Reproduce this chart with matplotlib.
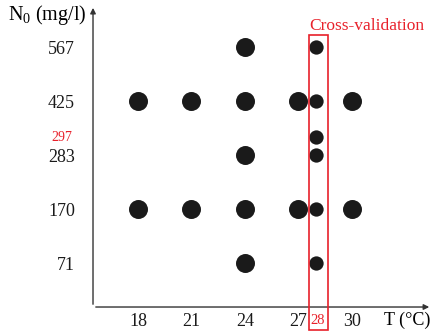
import numpy as np
import matplotlib.pyplot as plt
from matplotlib.patches import Rectangle

plt.rcParams['font.family'] = 'Liberation Serif'
plt.rcParams['mathtext.default'] = 'regular'

# concentration levels (drawn on evenly spaced rows)
levels = [71, 170, 283, 297, 425, 567]
level_rows = [0, 1, 2, 2.33, 3, 4]
row_of = dict(zip(levels, level_rows))

# training design points (large dots)
train_T = [18, 18, 21, 21, 24, 24, 24, 24, 24, 27, 27, 30, 30]
train_N = [425, 170, 425, 170, 567, 425, 283, 170, 71, 425, 170, 425, 170]

# cross-validation points (small dots)
cv_T = [28, 28, 28, 28, 28, 28]
cv_N = [567, 425, 297, 283, 170, 71]

x_ticks = [18, 21, 24, 27, 30]
y_ticks = [71, 170, 283, 425, 567]

fig = plt.figure(figsize=(4.32, 3.34), dpi=100)
ax = fig.add_axes([0.2153, 0.0808, 0.7847, 0.904])
ax.set_xlim(15.48, 34.49)
ax.set_ylim(-0.815, 4.78)
for s in ax.spines.values():
	s.set_visible(False)

ax.scatter(train_T, [row_of[n] for n in train_N], s=187, color='#1a1a1a', lw=0, zorder=3)
ax.scatter(cv_T, [row_of[n] for n in cv_N], s=106, color='#1a1a1a', lw=0, zorder=3)

# axes with arrow heads
ax.annotate('', xy=(1.0, 0), xytext=(0, 0), xycoords='axes fraction',
	arrowprops=dict(arrowstyle='-|>', color='#333333', lw=1, mutation_scale=8))
ax.annotate('', xy=(0, 1.0), xytext=(0, 0), xycoords='axes fraction',
	arrowprops=dict(arrowstyle='-|>', color='#333333', lw=1, mutation_scale=8))

ax.set_xticks(x_ticks)
ax.set_xticklabels([str(t) for t in x_ticks], fontsize=13)
ax.set_yticks([row_of[n] for n in y_ticks])
ax.set_yticklabels([str(n) for n in y_ticks], fontsize=13)
ax.tick_params(length=0, colors='#1a1a1a')
ax.tick_params(axis='x', pad=4.5)
ax.tick_params(axis='y', pad=13)

# red highlight for cross-validation
ax.text(28.05, -1.056, '28', color='#e8202a', fontsize=10.5, ha='center', va='center')
ax.text(-0.062, row_of[297], '297', transform=ax.get_yaxis_transform(), color='#e8202a',
	fontsize=10, ha='right', va='center')
ax.add_patch(Rectangle((27.59, -1.24), 1.07, 5.46, fill=False, edgecolor='#e8202a',
	lw=1.2, clip_on=False, zorder=4))
ax.text(30.81, 4.39, 'Cross-validation', color='#e8202a', fontsize=12.5, ha='center', va='center')

ax.text(-0.018, 0.967, 'N$_0$ (mg/l)', transform=ax.transAxes, fontsize=14.5, ha='right', va='center')
ax.text(0.995, -0.043, 'T (°C)', transform=ax.transAxes, fontsize=13, ha='right', va='center')

plt.savefig('out.png', dpi=100)
